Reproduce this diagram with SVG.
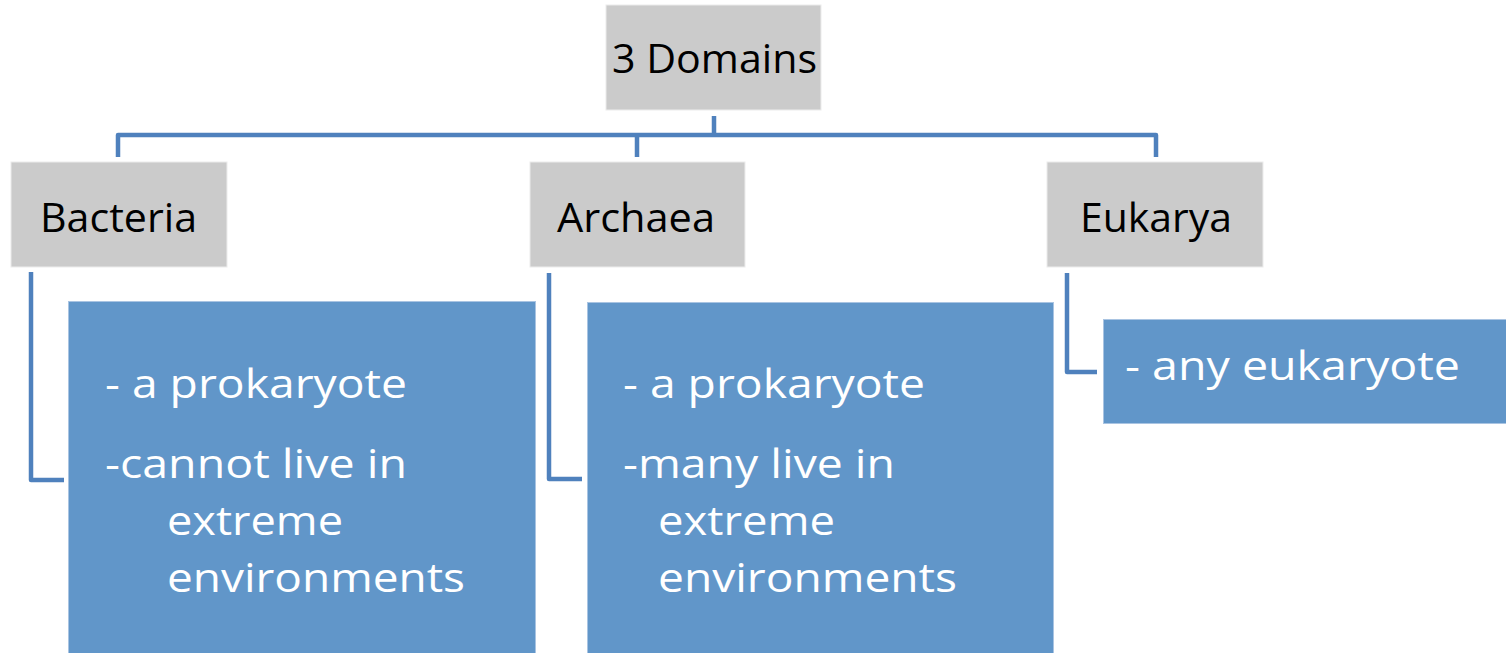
<svg xmlns="http://www.w3.org/2000/svg" width="1506" height="653" viewBox="0 0 1506 653">
<style>
.gray{fill:#CBCBCB;stroke:#ECECEC;stroke-width:1}
.blue{fill:#6196C9;stroke:#A9C4E2;stroke-width:1}
.ttl{font-family:"Open Sans","Liberation Sans",sans-serif;font-size:40px;fill:#000;text-anchor:start}
.bt{font-family:"Open Sans","Liberation Sans",sans-serif;font-size:40px;fill:#fff}
.con{fill:none;stroke:#4F81BD;stroke-width:4.5;stroke-linejoin:round}
</style>
<rect width="1506" height="653" fill="#fff"/>
<g id="connectors">
<path class="con" d="M714 116V135M118 157V135H1156V157M637 135V157"/>
<path class="con" d="M31 272V480H64"/>
<path class="con" d="M549 273V479H582"/>
<path class="con" d="M1067 273V372H1097"/>
</g>
<g id="root">
<rect class="gray" x="606" y="5" width="215" height="105"/>
<text class="ttl" x="612" y="73" textLength="205" lengthAdjust="spacingAndGlyphs">3 Domains</text>
</g>
<g id="bacteria">
<rect class="gray" x="11" y="162" width="216" height="105"/>
<text class="ttl" x="40" y="232" textLength="157" lengthAdjust="spacingAndGlyphs">Bacteria</text>
</g>
<g id="archaea">
<rect class="gray" x="530" y="162" width="215" height="105"/>
<text class="ttl" x="557" y="232" textLength="158" lengthAdjust="spacingAndGlyphs">Archaea</text>
</g>
<g id="eukarya">
<rect class="gray" x="1047" y="162" width="216" height="105"/>
<text class="ttl" x="1080" y="232" textLength="152" lengthAdjust="spacingAndGlyphs">Eukarya</text>
</g>
<g id="bacteria-info">
<rect class="blue" x="68.5" y="301.5" width="467" height="360"/>
<text class="bt" x="105" y="398" textLength="302" lengthAdjust="spacingAndGlyphs">- a prokaryote</text>
<text class="bt" x="105" y="478" textLength="302" lengthAdjust="spacingAndGlyphs">-cannot live in</text>
<text class="bt" x="167" y="535" textLength="176" lengthAdjust="spacingAndGlyphs">extreme</text>
<text class="bt" x="167" y="592" textLength="298" lengthAdjust="spacingAndGlyphs">environments</text>
</g>
<g id="archaea-info">
<rect class="blue" x="587.5" y="302.5" width="466" height="360"/>
<text class="bt" x="623" y="398" textLength="302" lengthAdjust="spacingAndGlyphs">- a prokaryote</text>
<text class="bt" x="623" y="478" textLength="272" lengthAdjust="spacingAndGlyphs">-many live in</text>
<text class="bt" x="658" y="535" textLength="177" lengthAdjust="spacingAndGlyphs">extreme</text>
<text class="bt" x="658" y="592" textLength="299" lengthAdjust="spacingAndGlyphs">environments</text>
</g>
<g id="eukarya-info">
<rect class="blue" x="1103.5" y="319.5" width="410" height="104"/>
<text class="bt" x="1125" y="380" textLength="335" lengthAdjust="spacingAndGlyphs">- any eukaryote</text>
</g>
</svg>
